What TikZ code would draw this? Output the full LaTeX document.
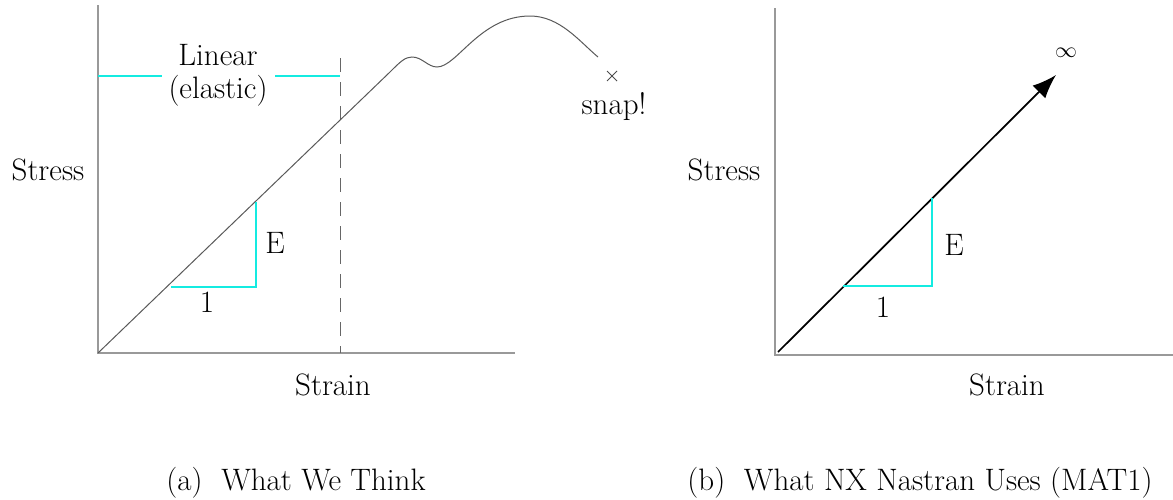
\documentclass[tikz,border=0pt]{standalone}
\usetikzlibrary{arrows.meta,calc}
\definecolor{cy}{RGB}{20,235,225}
\begin{document}
\begin{tikzpicture}[x=0.5pt,y=-0.5pt,
  axis/.style={draw=black!40,line width=0.6pt},
  curve/.style={draw=black!65,line width=0.5pt},
  cyanline/.style={draw=cy,line width=0.7pt},
  lbl/.style={font=\fontsize{15.5}{18}\selectfont,inner sep=0pt}]
\useasboundingbox (0,0) rectangle (1173,499);
% ---- left panel
\coordinate (lo) at (98,353);
\coordinate (ltop) at (98,5);
\coordinate (lright) at (515,353);
\draw[axis] (ltop) -- (lo) -- (lright);
\coordinate (dtop) at (340,58);
\coordinate (dbot) at (340,353);
\draw[draw=black!60,line width=0.5pt,dash pattern=on 7pt off 5pt] (dtop) -- (dbot);
\draw[curve] (lo) -- (390,72) .. controls (400,62) and (405,57) .. (412,57)
  .. controls (422,57) and (428,67) .. (437,67)
  .. controls (457,67) and (480,16) .. (530,16)
  .. controls (560,16) and (580,42) .. (598,57);
\node[lbl] (lin) at (218,55) {Linear};
\node[lbl] (ela) at (218,91) {(elastic)};
\coordinate (c1a) at (98,76); \coordinate (c1b) at (162,76);
\coordinate (c2a) at (275,76); \coordinate (c2b) at (340,76);
\draw[cyanline] (c1a) -- (c1b);
\draw[cyanline] (c2a) -- (c2b);
\coordinate (ta) at (171,287); \coordinate (tb) at (256,287); \coordinate (tc) at (256,202);
\draw[cyanline] (ta) -- (tb) -- (tc);
\node[lbl] (le) at (275,243) {E};
\node[lbl] (l1) at (207,302) {1};
\coordinate (x0) at (612,76);
\draw[draw=black!70,line width=0.5pt] ($(x0)+(-5,-5)$) -- ($(x0)+(5,5)$) ($(x0)+(-5,5)$) -- ($(x0)+(5,-5)$);
\node[lbl] (snap) at (614,107) {snap!};
\node[lbl] (lstress) at (48,170) {Stress};
\node[lbl] (lstrain) at (333,385) {Strain};
\node[lbl] (capa) at (296,483) {(a)\ \ What We Think};
% ---- right panel
\coordinate (ro) at (775,355);
\coordinate (rtop) at (775,8);
\coordinate (rright) at (1173,355);
\draw[axis] (rtop) -- (ro) -- (rright);
\coordinate (as) at (778,352); \coordinate (ae) at (1056,75);
\draw[line width=0.85pt,-{Latex[length=12pt,width=9pt]}] (as) -- (ae);
\coordinate (ra) at (843,286); \coordinate (rb) at (932,286); \coordinate (rc) at (932,198);
\draw[cyanline] (ra) -- (rb) -- (rc);
\node[lbl] (re) at (954,245) {E};
\node[lbl] (r1) at (883,307) {1};
\node[lbl,font=\fontsize{11}{13}\selectfont] (inf) at (1066,53) {$\infty$};
\node[lbl] (rstress) at (724,170) {Stress};
\node[lbl] (rstrain) at (1007,385) {Strain};
\node[lbl] (capb) at (920,483) {(b)\ \ What NX Nastran Uses (MAT1)};
\end{tikzpicture}
\end{document}
